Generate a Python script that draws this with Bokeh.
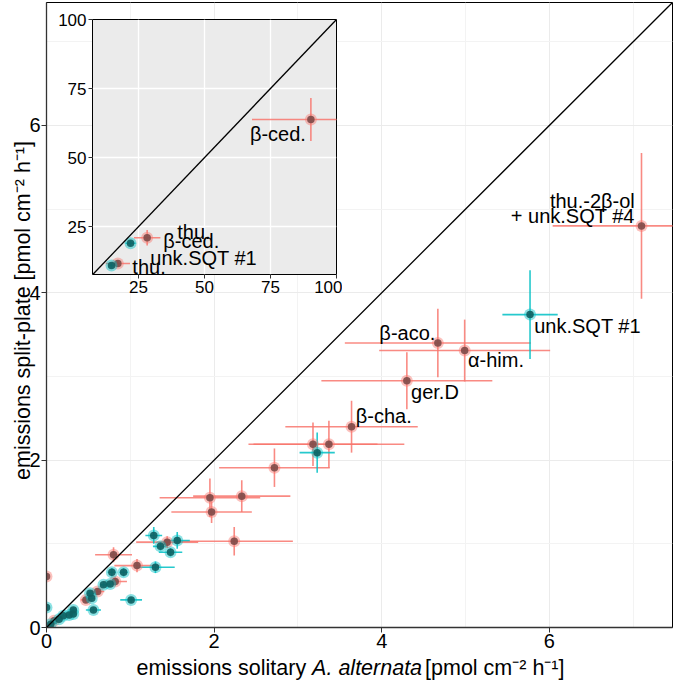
import math
from bokeh.plotting import figure
from bokeh.models import Range1d, FixedTicker, Slope
from bokeh.layouts import column
from bokeh.embed import file_html
from bokeh.resources import INLINE
from bokeh.core.properties import value

# ---------------- data (main panel) ----------------
red_x = [7.10, 4.67, 4.99, 4.30, 3.64, 3.18, 3.37, 2.72, 1.95, 2.33, 1.97, 2.24, 1.44, 0.80, 1.08, 0.82, 0.61, 0.47, 0.09, 0.00]
red_y = [4.80, 3.40, 3.31, 2.95, 2.40, 2.19, 2.19, 1.91, 1.55, 1.57, 1.38, 1.03, 1.02, 0.87, 0.74, 0.55, 0.43, 0.33, 0.08, 0.61]
red_xerr = [1.06, 1.11, 1.02, 1.02, 0.79, 0.77, 0.90, 0.66, 0.60, 0.58, 0.48, 0.70, 0.37, 0.22, 0.27, 0.14, 0.08, 0.06, 0.03, 0.01]
red_yerr = [0.87, 0.41, 0.37, 0.34, 0.31, 0.26, 0.28, 0.23, 0.23, 0.19, 0.13, 0.17, 0.07, 0.09, 0.08, 0.05, 0.04, 0.03, 0.02, 0.02]

teal_x = [5.77, 3.23, 1.28, 1.56, 1.36, 1.48, 1.30, 0.78, 0.92, 0.76, 0.68, 0.52, 0.54, 1.01, 0.56, 0.32, 0.32, 0.27, 0.20, 0.15, 0.05, 0.00]
teal_y = [3.74, 2.09, 1.10, 1.04, 0.97, 0.90, 0.72, 0.66, 0.66, 0.52, 0.51, 0.41, 0.35, 0.33, 0.21, 0.21, 0.16, 0.15, 0.14, 0.10, 0.04, 0.24]
teal_xerr = [0.33, 0.21, 0.10, 0.15, 0.09, 0.14, 0.23, 0.05, 0.05, 0.04, 0.04, 0.04, 0.04, 0.13, 0.09, 0.03, 0.03, 0.03, 0.02, 0.02, 0.02, 0.01]
teal_yerr = [0.53, 0.24, 0.10, 0.10, 0.05, 0.05, 0.07, 0.05, 0.05, 0.03, 0.03, 0.03, 0.03, 0.03, 0.03, 0.03, 0.03, 0.02, 0.02, 0.02, 0.02, 0.01]

main_labels = ["thu.-2\u03b2-ol", "+ unk.SQT #4", "unk.SQT #1", "\u03b2-aco.", "\u03b1-him.", "ger.D", "\u03b2-cha."]
main_ticks = [0, 2, 4, 6]
main_minor = [1, 3, 5, 7]

# ---------------- data (inset) ----------------
in_red_x = [90.3, 28.3, 17.2]
in_red_y = [63.8, 21.0, 11.7]
in_red_xerr = [22.3, 5.0, 4.6]
in_red_yerr = [7.8, 2.8, 1.2]
in_teal_x = [22.0, 14.8]
in_teal_y = [19.0, 11.0]
in_teal_xerr = [1.9, 1.0]
in_teal_yerr = [1.0, 0.8]
inset_labels = ["thu.", "\u03b2-ced.", "unk.SQT #1", "thu.", "\u03b2-ced."]
inset_ticks = [25, 50, 75, 100]

x_title = ["emissions solitary ", "A. alternata", " [pmol cm\u207b\u00b2 h\u207b\u00b9]"]
y_title = "emissions split-plate [pmol cm\u207b\u00b2 h\u207b\u00b9]"

# ---------------- styles ----------------
FONT = "Liberation Sans"
RED, TEAL = "#F8766D", "#00BFC4"
RED_DARK, TEAL_DARK = "#7d4a48", "#0f5f61"
W, H = 675, 681

p = figure(width=W, height=H, x_range=Range1d(0, 7.47), y_range=Range1d(0, 7.47),
           output_backend="svg", toolbar_location=None,
           min_border_left=46, min_border_right=3, min_border_top=2, min_border_bottom=54,
           background_fill_color="white", border_fill_color="white",
           outline_line_color="black", outline_line_width=1)

for ax in (p.xaxis[0], p.yaxis[0]):
    ax.ticker = FixedTicker(ticks=main_ticks, minor_ticks=main_minor)
    ax.major_tick_out = 5
    ax.major_tick_in = 0
    ax.minor_tick_out = 0
    ax.minor_tick_in = 0
    ax.axis_line_color = "#333333"
    ax.axis_line_width = 1.3
    ax.major_tick_line_color = "#333333"
    ax.major_label_text_font = FONT
    ax.major_label_text_font_size = "20px"
    ax.major_label_text_color = "black"
    ax.major_label_standoff = 1
for g in (p.xgrid[0], p.ygrid[0]):
    g.grid_line_color = "#EBEBEB"
    g.grid_line_width = 1
    g.minor_grid_line_color = "#F3F3F3"
    g.minor_grid_line_width = 1

p.add_layout(Slope(gradient=1, y_intercept=0, line_color="black", line_width=1.3))


def draw_series(fig, xs, ys, xe, ye, col, lw=1.6):
    fig.segment([x - e for x, e in zip(xs, xe)], ys, [x + e for x, e in zip(xs, xe)], ys,
                line_color=col, line_width=lw, line_alpha=0.85)
    fig.segment(xs, [y - e for y, e in zip(ys, ye)], xs, [y + e for y, e in zip(ys, ye)],
                line_color=col, line_width=lw, line_alpha=0.85)


def draw_points(fig, xs, ys, col, dark, halo=12, core=7.5):
    fig.scatter(xs, ys, size=halo, fill_color=col, fill_alpha=0.45, line_color=None)
    fig.scatter(xs, ys, size=core, fill_color=dark, fill_alpha=0.9, line_color=None)


draw_series(p, red_x, red_y, red_xerr, red_yerr, RED)
draw_series(p, teal_x, teal_y, teal_xerr, teal_yerr, TEAL)
draw_points(p, red_x, red_y, RED, RED_DARK)
draw_points(p, teal_x, teal_y, TEAL, TEAL_DARK)

# point labels (main)
lab_x = [7.02, 7.02, 5.82, 4.64, 5.03, 4.35, 3.69]
lab_y = [5.10, 4.92, 3.60, 3.52, 3.20, 2.81, 2.53]
lab_align = ["right", "right", "left", "right", "left", "left", "left"]
for t_, x, y, a in zip(main_labels, lab_x, lab_y, lab_align):
    p.text([x], [y], text=[t_], text_font=value(FONT), text_font_size="20px",
           text_align=a, text_baseline="middle", text_color="black")

# ---------------- inset ----------------
QW, QH = 288, 289
q = figure(width=QW, height=QH, x_range=Range1d(7.6, 100), y_range=Range1d(7.7, 100),
           output_backend="svg", toolbar_location=None,
           min_border_left=38, min_border_right=6, min_border_top=8, min_border_bottom=26,
           background_fill_color="#EBEBEB", border_fill_alpha=0,
           outline_line_color="black", outline_line_width=1)
for ax in (q.xaxis[0], q.yaxis[0]):
    ax.ticker = FixedTicker(ticks=inset_ticks)
    ax.axis_line_color = None
    ax.major_tick_out = 4
    ax.major_tick_in = 0
    ax.minor_tick_out = 0
    ax.minor_tick_in = 0
    ax.major_tick_line_color = "#333333"
    ax.major_label_text_font = FONT
    ax.major_label_text_font_size = "17px"
    ax.major_label_text_color = "black"
    ax.major_label_standoff = 2
for g in (q.xgrid[0], q.ygrid[0]):
    g.grid_line_color = "white"
    g.grid_line_width = 1.3

q.add_layout(Slope(gradient=1, y_intercept=0, line_color="black", line_width=1.3))
draw_series(q, in_red_x, in_red_y, in_red_xerr, in_red_yerr, RED)
draw_series(q, in_teal_x, in_teal_y, in_teal_xerr, in_teal_yerr, TEAL)
draw_points(q, in_red_x, in_red_y, RED, RED_DARK)
draw_points(q, in_teal_x, in_teal_y, TEAL, TEAL_DARK)

in_lab_x = [39.7, 34.4, 29.5, 22.7, 88.4]
in_lab_y = [23.1, 19.8, 13.6, 10.5, 58.7]
in_lab_align = ["left", "left", "left", "left", "right"]
for t_, x, y, a in zip(inset_labels, in_lab_x, in_lab_y, in_lab_align):
    q.text([x], [y], text=[t_], text_font=value(FONT), text_font_size="20px",
           text_align=a, text_baseline="middle", text_color="black")

INSET_LEFT, INSET_TOP = 54, 11

# ---------------- axis titles: transparent overlay (pixel coordinates) ----------------
t = figure(width=W, height=H, x_range=Range1d(0, W), y_range=Range1d(H, 0),
           output_backend="svg", toolbar_location=None,
           x_axis_type=None, y_axis_type=None,
           min_border_left=0, min_border_right=0, min_border_top=0, min_border_bottom=0,
           background_fill_alpha=0, border_fill_alpha=0, outline_line_color=None)
t.xgrid.visible = False
t.ygrid.visible = False

AW = {" ": 278, ".": 278, "-": 333, "[": 278, "]": 278, "1": 556, "2": 556, "A": 667,
      "a": 556, "c": 500, "e": 556, "h": 556, "i": 222, "l": 222, "m": 833, "n": 556,
      "o": 556, "p": 556, "r": 333, "s": 500, "t": 278, "y": 500}


def tw(s, size):
    return sum(AW.get(c, 556) for c in s) / 1000.0 * size


TS = 21.5
X0, XBASE = 136, 667
w1 = tw(x_title[0], TS)
w2 = tw(x_title[1], TS)
for txt, xx, style in zip(x_title, [X0, X0 + w1, X0 + w1 + w2 + 3], ["normal", "italic", "normal"]):
    t.text([xx], [XBASE], text=[txt], text_font=value(FONT), text_font_size=f"{TS}px",
           text_font_style=style, text_align="left", text_baseline="alphabetic",
           text_color="black")

t.text([22], [310], text=[y_title], angle=math.pi / 2, text_font=value(FONT),
       text_font_size=f"{TS}px", text_align="center", text_baseline="alphabetic",
       text_color="black")

# wrap overlays in their own containers so the column does not align plot frames
qbox = column(q, width=QW, height=QH)
qbox.margin = (INSET_TOP - H, 0, 0, INSET_LEFT)
tbox = column(t, width=W, height=H)
tbox.margin = (-(INSET_TOP + QH), 0, 0, 0)

layout = column(p, qbox, tbox, spacing=0)
open("out.html", "w").write(file_html(layout, INLINE))
